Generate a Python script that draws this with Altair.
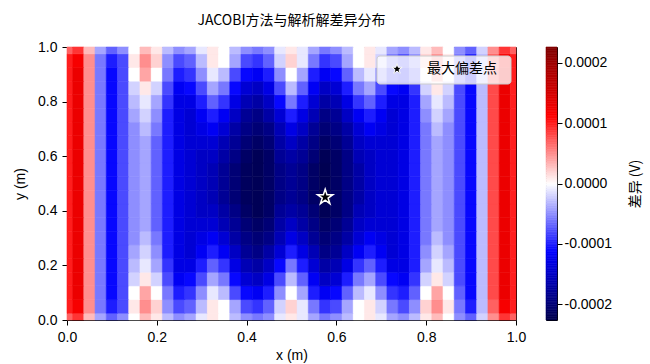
import altair as alt
import numpy as np
import pandas as pd

# Grid coordinates of the sampled difference field (m)
x_coords = [0.0, 0.025, 0.05, 0.075, 0.1, 0.125, 0.15, 0.175, 0.2, 0.225,
            0.25, 0.275, 0.3, 0.325, 0.35, 0.375, 0.4, 0.425, 0.45, 0.475,
            0.5, 0.525, 0.55, 0.575, 0.6, 0.625, 0.65, 0.675, 0.7, 0.725,
            0.75, 0.775, 0.8, 0.825, 0.85, 0.875, 0.9, 0.925, 0.95, 0.975, 1.0]
y_coords = [0.0, 0.05, 0.1, 0.15, 0.2, 0.25, 0.3, 0.35, 0.4, 0.45, 0.5,
            0.55, 0.6, 0.65, 0.7, 0.75, 0.8, 0.85, 0.9, 0.95, 1.0]

# Jacobi minus analytic potential, in units of 1e-5 V (rows run from y=0 up to y=1)
diff_rows = [
    [7, 9, 3, -4, -7, -5, 0, 3, 1, -3, -5, -4, -1, 1, 0, -3, -5, -6, -5, -1, 1, -1, -4, -6, -5, -3, 0, 1, -1, -4, -5, -3, 1, 3, 0, -5, -7, -2, 5, 9, 7],
    [10, 12, 5, -6, -10, -8, 1, 5, 2, -5, -8, -7, -3, 1, 0, -4, -8, -9, -7, -2, 2, -1, -6, -9, -8, -4, 0, 1, -2, -6, -8, -5, 2, 5, 1, -6, -10, -3, 7, 12, 10],
    [10, 13, 5, -6, -11, -8, 0, 4, 0, -6, -10, -9, -5, -1, -3, -8, -11, -12, -10, -5, 0, -4, -10, -12, -11, -7, -3, -1, -5, -9, -10, -7, 0, 4, 0, -7, -11, -3, 8, 13, 10],
    [10, 13, 5, -6, -11, -8, -2, 1, -2, -8, -12, -11, -8, -4, -6, -11, -14, -15, -13, -8, -3, -7, -12, -15, -14, -10, -6, -4, -8, -11, -12, -9, -2, 1, -2, -8, -11, -3, 8, 13, 10],
    [10, 13, 5, -6, -11, -8, -3, -1, -4, -9, -13, -13, -10, -7, -9, -13, -16, -17, -15, -11, -6, -10, -14, -17, -16, -13, -9, -7, -10, -13, -13, -10, -4, -1, -3, -8, -11, -3, 8, 13, 10],
    [10, 13, 5, -6, -11, -8, -4, -2, -5, -10, -13, -14, -12, -10, -12, -15, -18, -19, -17, -14, -10, -13, -16, -19, -18, -15, -12, -10, -12, -14, -13, -10, -5, -2, -4, -8, -11, -3, 8, 13, 10],
    [10, 13, 5, -6, -11, -8, -5, -3, -6, -10, -13, -14, -13, -12, -14, -17, -19, -20, -19, -16, -13, -15, -18, -20, -19, -17, -14, -12, -13, -14, -13, -10, -6, -3, -5, -8, -11, -3, 8, 13, 10],
    [10, 13, 5, -6, -11, -8, -5, -4, -7, -10, -13, -14, -14, -14, -16, -18, -20, -21, -20, -17, -15, -17, -19, -21, -20, -18, -15, -14, -14, -14, -13, -10, -6, -4, -5, -8, -11, -3, 8, 13, 10],
    [10, 13, 5, -6, -11, -8, -5, -4, -7, -10, -13, -14, -15, -15, -17, -19, -21, -22, -21, -18, -17, -18, -20, -22, -21, -19, -16, -15, -14, -14, -13, -10, -6, -4, -5, -8, -11, -3, 8, 13, 10],
    [10, 13, 5, -6, -11, -8, -5, -4, -7, -10, -13, -14, -15, -16, -18, -20, -21.5, -22, -21, -19, -18, -19, -21, -22.6, -21, -19, -17, -15, -14, -14, -13, -10, -6, -4, -5, -8, -11, -3, 8, 13, 10],
    [10, 13, 5, -6, -11, -8, -5, -4, -7, -10, -13, -14, -15, -16, -18, -20, -21.5, -22, -21, -19, -18, -19, -21, -22.3, -21, -19, -17, -15, -14, -14, -13, -10, -6, -4, -5, -8, -11, -3, 8, 13, 10],
    [10, 13, 5, -6, -11, -8, -5, -4, -7, -10, -13, -14, -15, -16, -18, -20, -21.5, -22, -21, -19, -18, -19, -21, -22.2, -21, -19, -17, -15, -14, -14, -13, -10, -6, -4, -5, -8, -11, -3, 8, 13, 10],
    [10, 13, 5, -6, -11, -8, -5, -4, -7, -10, -13, -14, -15, -15, -17, -19, -21, -22, -21, -18, -17, -18, -20, -22, -21, -19, -16, -15, -14, -14, -13, -10, -6, -4, -5, -8, -11, -3, 8, 13, 10],
    [10, 13, 5, -6, -11, -8, -5, -4, -7, -10, -13, -14, -14, -14, -16, -18, -20, -21, -20, -17, -15, -17, -19, -21, -20, -18, -15, -14, -14, -14, -13, -10, -6, -4, -5, -8, -11, -3, 8, 13, 10],
    [10, 13, 5, -6, -11, -8, -5, -3, -6, -10, -13, -14, -13, -12, -14, -17, -19, -20, -19, -16, -13, -15, -18, -20, -19, -17, -14, -12, -13, -14, -13, -10, -6, -3, -5, -8, -11, -3, 8, 13, 10],
    [10, 13, 5, -6, -11, -8, -4, -2, -5, -10, -13, -14, -12, -10, -12, -15, -18, -19, -17, -14, -10, -13, -16, -19, -18, -15, -12, -10, -12, -14, -13, -10, -5, -2, -4, -8, -11, -3, 8, 13, 10],
    [10, 13, 5, -6, -11, -8, -3, -1, -4, -9, -13, -13, -10, -7, -9, -13, -16, -17, -15, -11, -6, -10, -14, -17, -16, -13, -9, -7, -10, -13, -13, -10, -4, -1, -3, -8, -11, -3, 8, 13, 10],
    [10, 13, 5, -6, -11, -8, -2, 1, -2, -8, -12, -11, -8, -4, -6, -11, -14, -15, -13, -8, -3, -7, -12, -15, -14, -10, -6, -4, -8, -11, -12, -9, -2, 1, -2, -8, -11, -3, 8, 13, 10],
    [10, 13, 5, -6, -11, -8, 0, 4, 0, -6, -10, -9, -5, -1, -3, -8, -11, -12, -10, -5, 0, -4, -10, -12, -11, -7, -3, -1, -5, -9, -10, -7, 0, 4, 0, -7, -11, -3, 8, 13, 10],
    [10, 12, 5, -6, -10, -8, 1, 5, 2, -5, -8, -7, -3, 1, 0, -4, -8, -9, -7, -2, 2, -1, -6, -9, -8, -4, 0, 1, -2, -6, -8, -5, 2, 5, 1, -6, -10, -3, 7, 12, 10],
    [7, 9, 3, -4, -7, -5, 0, 3, 1, -3, -5, -4, -1, 1, 0, -3, -5, -6, -5, -1, 1, -1, -4, -6, -5, -3, 0, 1, -1, -4, -5, -3, 1, 3, 0, -5, -7, -2, 5, 9, 7],
]
UNIT = 1e-5
DX, DY = 0.025, 0.05

records = []
for j, yv in enumerate(y_coords):
    for i, xv in enumerate(x_coords):
        records.append({"x": xv, "y": yv, "diff": diff_rows[j][i] * UNIT,
                        "left": max(xv - DX / 2, 0.0), "right": min(xv + DX / 2, 1.0),
                        "bottom": max(yv - DY / 2, 0.0), "top": min(yv + DY / 2, 1.0)})
field = pd.DataFrame(records)

# Point of largest absolute deviation
peak = field.loc[[field["diff"].abs().idxmax()], ["x", "y", "diff"]].copy()
peak["label"] = "最大偏差点"
vmax = float(field["diff"].abs().max())

# Colour-bar ramp spanning the symmetric colour range
ramp_edges = np.linspace(-vmax, vmax, 161)
ramp = pd.DataFrame({"v0": ramp_edges[:-1], "v1": ramp_edges[1:]})
ramp["v"] = (ramp["v0"] + ramp["v1"]) / 2

LATIN = "Liberation Sans"
CJK = "Noto Sans CJK SC"
PLOT_W, PLOT_H = 449, 273
CBAR_W = 11
FS = 14

# Five-pointed star as an SVG path in the unit square
STAR = ("M0,-1L0.2245,-0.309L0.9511,-0.309L0.3633,0.118L0.5878,0.809L0,0.382"
        "L-0.5878,0.809L-0.3633,0.118L-0.9511,-0.309L-0.2245,-0.309Z")

seismic = ["#00004c", "#0000ff", "#ffffff", "#ff0000", "#7f0000"]
color_scale = alt.Scale(domain=[-vmax, -vmax / 2, 0, vmax / 2, vmax],
                        range=seismic, interpolate="rgb")

tick_vals = [0, 0.2, 0.4, 0.6, 0.8, 1.0]
axis_style = dict(format=".1f", grid=False, tickSize=5, tickColor="black",
                  domain=False, labelFontSize=FS, labelFont=LATIN,
                  labelColor="black", labelPadding=5, labelFlush=False,
                  titleFont=LATIN, titleFontSize=FS, titleFontWeight="normal",
                  titleColor="black")

heat = alt.Chart(field).mark_rect(strokeWidth=0.6).encode(
    x=alt.X("left:Q", scale=alt.Scale(domain=[0, 1], nice=False, zero=False),
            axis=alt.Axis(values=tick_vals, titlePadding=4, **axis_style),
            title="x (m)"),
    x2="right:Q",
    y=alt.Y("bottom:Q", scale=alt.Scale(domain=[0, 1], nice=False, zero=False),
            axis=alt.Axis(values=tick_vals, titlePadding=10, **axis_style),
            title="y (m)"),
    y2="top:Q",
    color=alt.Color("diff:Q", scale=color_scale, legend=None),
    stroke=alt.Stroke("diff:Q", scale=color_scale, legend=None),
)

star = alt.Chart(peak).mark_point(
    filled=True, fill="black", stroke="white", strokeWidth=1.5,
    size=260, opacity=1, shape=STAR,
).encode(x="x:Q", y="y:Q")

# Legend box in the upper-right corner of the plot
label_df = peak[["label"]]
legend_box = alt.Chart(label_df).mark_rect(
    fill="white", fillOpacity=0.8, stroke="#cccccc", strokeWidth=1,
    cornerRadius=3,
).encode(x=alt.value(310), x2=alt.value(444), y=alt.value(9), y2=alt.value(37))
legend_star = alt.Chart(label_df).mark_point(
    filled=True, fill="black", stroke="white", strokeWidth=1, size=120,
    opacity=1, shape=STAR,
).encode(x=alt.value(330), y=alt.value(22))
legend_text = alt.Chart(label_df).mark_text(
    font=CJK, fontSize=FS, color="black", align="left", baseline="middle",
).encode(text="label:N", x=alt.value(360), y=alt.value(22))

main = alt.layer(heat, star, legend_box, legend_star, legend_text).properties(
    width=PLOT_W, height=PLOT_H,
    title=alt.TitleParams("JACOBI方法与解析解差异分布", font=CJK, fontSize=14,
                          fontWeight="normal", color="black", anchor="middle",
                          offset=12),
)

cbar = alt.Chart(ramp).mark_rect(strokeWidth=0.6).encode(
    x=alt.value(0),
    x2=alt.value(CBAR_W),
    y=alt.Y("v0:Q", scale=alt.Scale(domain=[-vmax, vmax], nice=False, zero=False),
            axis=alt.Axis(orient="right", values=[-0.0002, -0.0001, 0, 0.0001, 0.0002],
                          labelExpr="replace(format(datum.value, '.4f'), '\u2212', '-')",
                          grid=False, tickSize=5, tickColor="black", domain=False,
                          labelFontSize=FS, labelFont=LATIN, labelColor="black",
                          labelPadding=2, title="差异 (V)", titleFont=CJK,
                          titleFontSize=FS, titleFontWeight="normal",
                          titleColor="black", titleAngle=270,
                          titleX=78, titleY=PLOT_H / 2, titleAlign="center",
                          titleBaseline="middle")),
    y2="v1:Q",
    color=alt.Color("v:Q", scale=color_scale, legend=None),
    stroke=alt.Stroke("v:Q", scale=color_scale, legend=None),
).properties(width=CBAR_W, height=PLOT_H)

chart = alt.hconcat(main, cbar, spacing=30, bounds="flush").properties(
    padding={"left": 13, "top": 13, "right": 5, "bottom": 5},
).configure_view(stroke="black", strokeWidth=1)

chart.save("out.html", embed_options={"renderer": "svg", "actions": False})
